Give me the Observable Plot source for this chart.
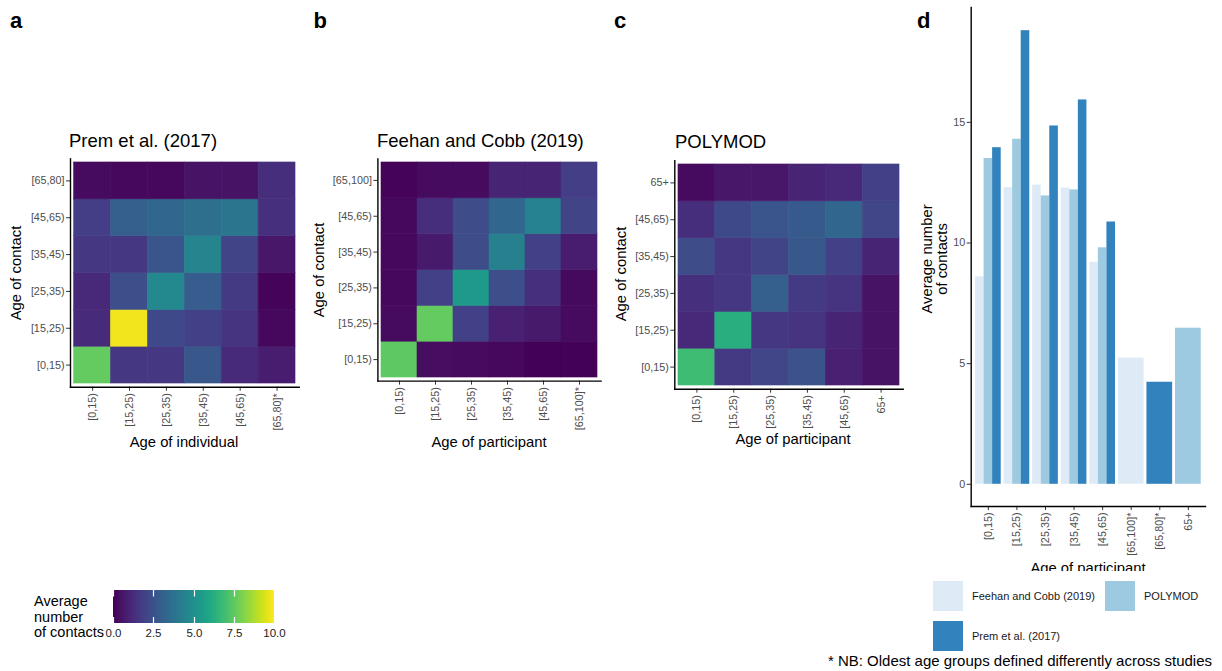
<!DOCTYPE html>
<html>
<head>
<meta charset="utf-8">
<script src="https://cdn.jsdelivr.net/npm/d3@7"></script>
<script src="https://cdn.jsdelivr.net/npm/@observablehq/plot@0.6"></script>
<style>
  body { margin: 0; background: #fff; }
  #wrap { position: relative; width: 1222px; height: 671px; overflow: hidden; background: #fff; font-family: "Liberation Sans", Arial, sans-serif; }
  #wrap > svg, #wrap > div { position: absolute; }
  .ovl { pointer-events: none; }
</style>
</head>
<body>
<div id="wrap"></div>
<script>
// ---------- DATA ----------
const baseGroups = ["[0,15)", "[15,25)", "[25,35)", "[35,45)", "[45,65)"];

// Prem et al. (2017): rows = age of contact (youngest first), cols = age of individual
const premCols = [...baseGroups, "[65,80]*"];
const premRows = [...baseGroups, "[65,80]"];
const premMatrix = [
  [7.6, 1.6, 1.6, 2.7, 1.2, 0.8],
  [1.2, 9.8, 2.2, 1.9, 1.5, 0.2],
  [1.1, 2.4, 4.7, 2.9, 1.7, 0.1],
  [1.6, 1.6, 2.6, 4.5, 2.0, 0.6],
  [1.8, 3.0, 3.3, 3.6, 3.9, 1.4],
  [0.3, 0.2, 0.2, 0.5, 0.5, 1.3]
];

// Feehan and Cobb (2019)
const feehanCols = [...baseGroups, "[65,100]*"];
const feehanRows = [...baseGroups, "[65,100]"];
const feehanMatrix = [
  [7.5, 0.35, 0.3, 0.2, 0.05, 0.05],
  [0.3, 7.6, 1.9, 0.9, 0.7, 0.3],
  [0.2, 1.9, 5.4, 2.4, 1.4, 0.25],
  [0.2, 0.7, 2.3, 4.3, 1.9, 0.8],
  [0.2, 1.3, 2.3, 3.3, 4.4, 2.0],
  [0.1, 0.3, 0.3, 1.0, 1.0, 1.8]
];

// POLYMOD
const polymodCols = [...baseGroups, "65+"];
const polymodRows = [...baseGroups, "65+"];
const polymodMatrix = [
  [6.9, 1.7, 2.1, 2.5, 0.9, 0.5],
  [1.1, 6.3, 1.6, 1.5, 1.0, 0.5],
  [1.4, 1.6, 3.0, 1.7, 1.5, 0.5],
  [2.3, 1.6, 2.0, 2.7, 1.9, 1.0],
  [1.3, 2.2, 2.6, 2.8, 3.3, 2.1],
  [0.3, 0.6, 0.6, 1.0, 1.1, 1.9]
];

// Panel d: average number of contacts by age of participant
const barGroups = ["[0,15)", "[15,25)", "[25,35)", "[35,45)", "[45,65)", "[65,100]*", "[65,80]*", "65+"];
const studies = ["Feehan and Cobb (2019)", "POLYMOD", "Prem et al. (2017)"];
const studyColors = ["#deebf7", "#9ecae1", "#3182bd"];
const feehanTotals = { "[0,15)": 8.6, "[15,25)": 12.3, "[25,35)": 12.4, "[35,45)": 12.28, "[45,65)": 9.2, "[65,100]*": 5.23 };
const polymodTotals = { "[0,15)": 13.5, "[15,25)": 14.3, "[25,35)": 11.95, "[35,45)": 12.2, "[45,65)": 9.8, "65+": 6.47 };
const premTotals = { "[0,15)": 13.95, "[15,25)": 18.8, "[25,35)": 14.85, "[35,45)": 15.93, "[45,65)": 10.87, "[65,80]*": 4.23 };
const yTicksD = [0, 5, 10, 15];
const colorTicks = [0, 2.5, 5, 7.5, 10];

// ---------- HELPERS ----------
const FONT = "'Liberation Sans', Arial, sans-serif";
const wrap = document.getElementById("wrap");
function place(el, left, top) {
  el.style.left = left + "px";
  el.style.top = top + "px";
  wrap.appendChild(el);
}

function heatmap(rows, cols, matrix, o) {
  const data = [];
  matrix.forEach((r, i) => r.forEach((v, j) => data.push({ row: rows[i], col: cols[j], value: v })));
  return Plot.plot({
    width: o.width, height: 460,
    marginLeft: o.ml, marginRight: o.mr, marginTop: o.mt, marginBottom: o.mb,
    style: { fontFamily: FONT, fontSize: "10.8px", background: "transparent", overflow: "visible" },
    x: { domain: cols, paddingInner: 0, paddingOuter: 0.1, round: false, axis: null, label: null },
    y: { domain: rows.slice().reverse(), paddingInner: 0, paddingOuter: 0.1, round: false, axis: null, label: null },
    color: { type: "linear", scheme: "viridis", domain: [0, 10] },
    marks: [
      Plot.cell(data, { x: "col", y: "row", fill: "value", stroke: "value", strokeWidth: 0.6, inset: 0 }),
      Plot.axisX({ anchor: "bottom", tickRotate: -90, tickSize: 4, tickPadding: 2, fontSize: 10.8, fill: "#4d4d4d", stroke: "#333", label: null }),
      Plot.axisY({ anchor: "left", tickSize: 4, tickPadding: 2, fontSize: 10.8, fill: "#4d4d4d", stroke: "#333", label: null }),
      Plot.frame({ anchor: "left", stroke: "#000", strokeWidth: 1.4 }),
      Plot.frame({ anchor: "bottom", stroke: "#000", strokeWidth: 1.4 })
    ]
  });
}

// ---------- PANELS a, b, c ----------
place(heatmap(premRows, premCols, premMatrix, { width: 300, ml: 70, mr: 1.3, mt: 158.3, mb: 73.3 }), 0, 0);
place(heatmap(feehanRows, feehanCols, feehanMatrix, { width: 302, ml: 77.4, mr: 1.4, mt: 158.4, mb: 79.4 }), 300, 0);
place(heatmap(polymodRows, polymodCols, polymodMatrix, { width: 305, ml: 74.3, mr: 2.3, mt: 160.3, mb: 71.3 }), 600, 0);

// ---------- PANEL d ----------
const totalsBy = [feehanTotals, polymodTotals, premTotals];
const barData = [];
barGroups.forEach((g, gi) => {
  const present = studies.map((s, si) => ({ s, v: totalsBy[si][g] })).filter(d => d.v !== undefined);
  const n = present.length;
  present.forEach((d, k) => {
    const left = gi + 1 - 0.45;
    barData.push({ group: g, study: d.s, value: d.v, x1: left + 0.9 * k / n, x2: left + 0.9 * (k + 1) / n });
  });
});

const barPlot = Plot.plot({
  width: 300, height: 572,
  marginLeft: 60.7, marginRight: 5, marginTop: 7, marginBottom: 66,
  style: { fontFamily: FONT, fontSize: "10.8px", background: "transparent", overflow: "visible" },
  x: { type: "linear", domain: [0.4, 8.6], axis: null, label: null },
  y: { type: "linear", domain: [-0.92, 19.76], axis: null, label: null },
  color: { domain: studies, range: studyColors },
  marks: [
    Plot.rect(barData, { x1: "x1", x2: "x2", y1: 0, y2: "value", fill: "study", inset: 0 }),
    Plot.axisX({ anchor: "bottom", ticks: barGroups.map((_, i) => i + 1), tickFormat: i => barGroups[i - 1], tickRotate: -90, tickSize: 4, tickPadding: 2, fontSize: 10.8, fill: "#4d4d4d", stroke: "#333", label: null }),
    Plot.axisY({ anchor: "left", ticks: yTicksD, tickFormat: d => String(d), tickSize: 4, tickPadding: 2, fontSize: 10.8, fill: "#4d4d4d", stroke: "#333", label: null }),
    Plot.frame({ anchor: "left", stroke: "#000", strokeWidth: 1.4 }),
    Plot.frame({ anchor: "bottom", stroke: "#000", strokeWidth: 1.4 })
  ]
});
place(barPlot, 910, 0);

// ---------- COLOR BAR LEGEND ----------
const cbar = Plot.legend({
  color: { type: "linear", scheme: "viridis", domain: [0, 10] },
  width: 181, height: 53, marginTop: 0, marginBottom: 20, marginLeft: 10, marginRight: 10,
  ticks: colorTicks, tickFormat: d3.format(".1f"), tickSize: 2.5, label: null,
  style: { fontFamily: FONT, fontSize: "11.5px", background: "transparent", overflow: "visible", color: "#1a1a1a" }
});
cbar.querySelectorAll(".tick line").forEach(l => {
  l.setAttribute("stroke", "#ffffff");
  l.setAttribute("stroke-width", "1.2");
  l.setAttribute("stroke-dasharray", "6.6 20.4 8.5");
});
place(cbar, 103, 590);

// ---------- TEXT OVERLAY ----------
const NS = "http://www.w3.org/2000/svg";
const ovl = document.createElementNS(NS, "svg");
ovl.setAttribute("class", "ovl");
ovl.setAttribute("width", 1222);
ovl.setAttribute("height", 671);
ovl.setAttribute("font-family", FONT);
ovl.innerHTML = `
<defs><clipPath id="clipD"><rect x="900" y="0" width="322" height="571"/></clipPath></defs>
`;
place(ovl, 0, 0);

function txt(s, x, y, o = {}) {
  const t = document.createElementNS(NS, "text");
  t.textContent = s;
  t.setAttribute("x", o.rot ? 0 : x);
  t.setAttribute("y", o.rot ? 0 : y);
  if (o.rot) t.setAttribute("transform", `translate(${x},${y}) rotate(-90)`);
  t.setAttribute("font-size", o.size || 14.8);
  t.setAttribute("fill", o.fill || "#000");
  if (o.anchor) t.setAttribute("text-anchor", o.anchor);
  if (o.bold) t.setAttribute("font-weight", "bold");
  if (o.clip) t.setAttribute("clip-path", `url(#${o.clip})`);
  ovl.appendChild(t);
  return t;
}

// panel letters
txt("a", 10, 28, { size: 22, bold: true });
txt("b", 313.5, 28, { size: 22, bold: true });
txt("c", 614, 28, { size: 22, bold: true });
txt("d", 917, 28, { size: 22, bold: true });

// titles
txt("Prem et al. (2017)", 69, 147, { size: 18.5 });
txt("Feehan and Cobb (2019)", 377, 147, { size: 18.5 });
txt("POLYMOD", 675, 148, { size: 18.5 });

// axis titles
txt("Age of contact", 20.5, 273, { rot: true, anchor: "middle" });
txt("Age of contact", 323.5, 270, { rot: true, anchor: "middle" });
txt("Age of contact", 625.5, 274, { rot: true, anchor: "middle" });
txt("Age of individual", 184, 447, { anchor: "middle" });
txt("Age of participant", 489, 447, { anchor: "middle" });
txt("Age of participant", 793, 443.5, { anchor: "middle" });
txt("Average number", 932, 259, { rot: true, anchor: "middle" });
txt("of contacts", 947, 259, { rot: true, anchor: "middle" });
txt("Age of participant", 1088, 573, { anchor: "middle", clip: "clipD" });

// colour-bar title
txt("Average", 34, 606, { size: 14.5 });
txt("number", 34, 621.5, { size: 14.5 });
txt("of contacts", 34, 637, { size: 14.5 });

// bar legend
const legendPos = [[933, 581], [1105, 581], [933, 621]];
studies.forEach((s, i) => {
  const [x, y] = legendPos[i];
  const r = document.createElementNS(NS, "rect");
  r.setAttribute("x", x); r.setAttribute("y", y);
  r.setAttribute("width", 30); r.setAttribute("height", 30);
  r.setAttribute("fill", studyColors[i]);
  ovl.appendChild(r);
  txt(s, x + 39, y + 19, { size: 11, fill: "#1a1a1a" });
});

// caption
txt("* NB: Oldest age groups defined differently across studies", 1212, 666, { size: 15, anchor: "end" });
</script>
</body>
</html>
